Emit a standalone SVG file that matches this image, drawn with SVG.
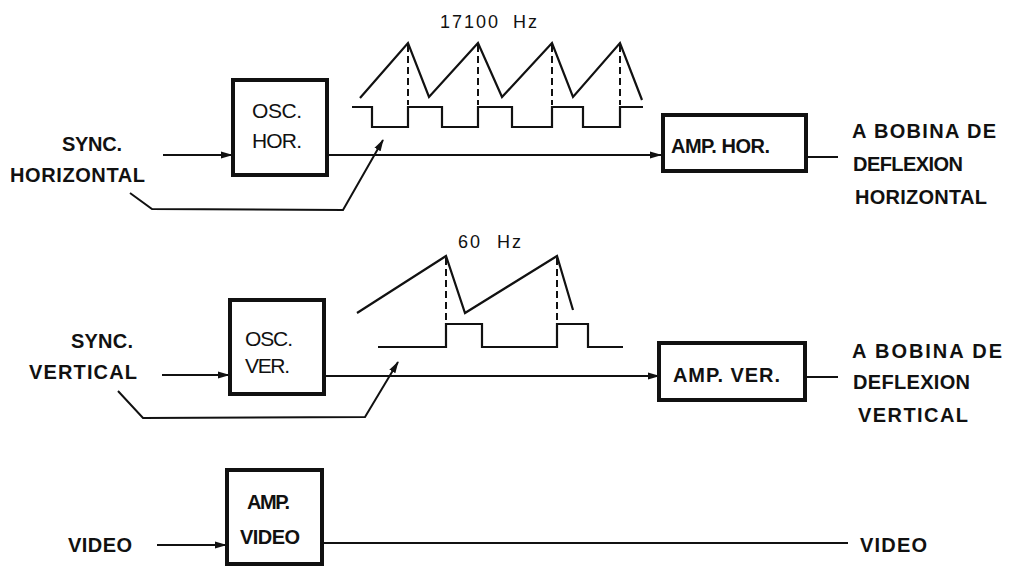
<svg xmlns="http://www.w3.org/2000/svg" width="1017" height="567" viewBox="0 0 1017 567">
<defs>
<marker id="arr" markerUnits="userSpaceOnUse" markerWidth="12" markerHeight="8" refX="11" refY="4" orient="auto">
<path d="M0,0.5 L12,4 L0,7.5 Z" fill="#111"/>
</marker>
<style>
.box{fill:#fff;stroke:#111;stroke-width:4}
.ln{fill:none;stroke:#111;stroke-width:2}
.wv{fill:none;stroke:#111;stroke-width:2.2;stroke-linejoin:miter}
.dash{fill:none;stroke:#111;stroke-width:2;stroke-dasharray:7,4}
text{font-family:"Liberation Sans",Arial,sans-serif;fill:#111}
.lb{font-size:20px;font-weight:bold}
.bx{font-size:20px;font-weight:bold}
.osc{font-size:21px}
.hz{font-size:18px}
</style>
</defs>
<rect width="1017" height="567" fill="#fff"/>

<g id="connectors">
<line class="ln" x1="163" y1="155" x2="232" y2="155" marker-end="url(#arr)"/>
<line class="ln" x1="327" y1="155" x2="661" y2="155" marker-end="url(#arr)"/>
<line class="ln" x1="806" y1="157" x2="838" y2="157"/>
<polyline class="ln" points="130,193 152,209 343,210 383,140" marker-end="url(#arr)"/>
<line class="ln" x1="162" y1="375" x2="229" y2="375" marker-end="url(#arr)"/>
<line class="ln" x1="324" y1="376" x2="659" y2="376" marker-end="url(#arr)"/>
<line class="ln" x1="805" y1="377" x2="838" y2="377"/>
<polyline class="ln" points="118,391 143,418 365,417 398,362" marker-end="url(#arr)"/>
<line class="ln" x1="157" y1="545" x2="226" y2="545" marker-end="url(#arr)"/>
<line class="ln" x1="322" y1="543" x2="848" y2="543"/>
</g>

<g id="wave-hor">
<polyline class="wv" points="360,98 408,43 429,97 478,43 502,97 552,43 573,97 620,43 642,100"/>
<line class="dash" x1="408" y1="45" x2="408" y2="105"/>
<line class="dash" x1="478" y1="45" x2="478" y2="105"/>
<line class="dash" x1="552" y1="45" x2="552" y2="105"/>
<line class="dash" x1="620" y1="45" x2="620" y2="105"/>
<polyline class="wv" points="352,107 372,107 372,127 408,127 408,107 442,107 442,127 478,127 478,107 512,107 512,127 552,127 552,107 583,107 583,127 620,127 620,107 643,107"/>
<text class="hz" x="440" y="28" style="letter-spacing:2px;word-spacing:6px">17100 Hz</text>
</g>

<g id="wave-ver">
<polyline class="wv" points="357,313 446,256 465,313 557,256 573,310"/>
<line class="dash" x1="446" y1="258" x2="446" y2="322"/>
<line class="dash" x1="557" y1="258" x2="557" y2="322"/>
<polyline class="wv" points="378,347 446,347 446,324 482,324 482,347 557,347 557,324 588,324 588,347 623,347"/>
<text class="hz" x="458" y="248" style="letter-spacing:2px;word-spacing:8px">60 Hz</text>
</g>

<g id="sync-hor-label">
<text class="lb" x="62" y="151" textLength="60" lengthAdjust="spacing">SYNC.</text>
<text class="lb" x="10" y="182" textLength="135" lengthAdjust="spacing">HORIZONTAL</text>
</g>

<g id="osc-hor">
<rect class="box" x="233" y="80" width="94" height="95"/>
<text class="osc" x="252" y="118" textLength="50" lengthAdjust="spacing">OSC.</text>
<text class="osc" x="252" y="148" textLength="50" lengthAdjust="spacing">HOR.</text>
</g>

<g id="amp-hor">
<rect class="box" x="663" y="115" width="143" height="56"/>
<text class="bx" x="671" y="153" textLength="99" lengthAdjust="spacing">AMP. HOR.</text>
</g>

<g id="out-hor-label">
<text class="lb" x="852" y="138" textLength="144" lengthAdjust="spacing">A BOBINA DE</text>
<text class="lb" x="853" y="171" textLength="110" lengthAdjust="spacing">DEFLEXION</text>
<text class="lb" x="855" y="204" textLength="132" lengthAdjust="spacing">HORIZONTAL</text>
</g>

<g id="sync-ver-label">
<text class="lb" x="71" y="348" textLength="62" lengthAdjust="spacing">SYNC.</text>
<text class="lb" x="29" y="379" textLength="108" lengthAdjust="spacing">VERTICAL</text>
</g>

<g id="osc-ver">
<rect class="box" x="230" y="300" width="94" height="94"/>
<text class="osc" x="245" y="346" textLength="48" lengthAdjust="spacing">OSC.</text>
<text class="osc" x="245" y="373" textLength="45" lengthAdjust="spacing">VER.</text>
</g>

<g id="amp-ver">
<rect class="box" x="659" y="343" width="146" height="57"/>
<text class="bx" x="673" y="382" textLength="107" lengthAdjust="spacing">AMP. VER.</text>
</g>

<g id="out-ver-label">
<text class="lb" x="852" y="358" textLength="150" lengthAdjust="spacing">A BOBINA DE</text>
<text class="lb" x="853" y="389" textLength="117" lengthAdjust="spacing">DEFLEXION</text>
<text class="lb" x="858" y="422" textLength="110" lengthAdjust="spacing">VERTICAL</text>
</g>

<g id="video-in-label">
<text class="lb" x="68" y="552" textLength="64" lengthAdjust="spacing">VIDEO</text>
</g>

<g id="amp-video">
<rect class="box" x="227" y="470" width="95" height="94"/>
<text class="bx" x="247" y="509" textLength="43" lengthAdjust="spacing">AMP.</text>
<text class="bx" x="240" y="544" textLength="60" lengthAdjust="spacing">VIDEO</text>
</g>

<g id="video-out-label">
<text class="lb" x="860" y="552" textLength="67" lengthAdjust="spacing">VIDEO</text>
</g>
</svg>
